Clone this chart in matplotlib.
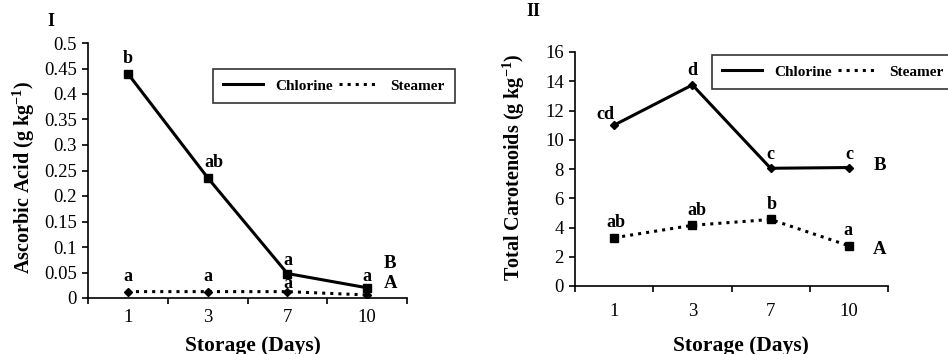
import matplotlib
matplotlib.use('Agg')
import matplotlib.pyplot as plt
from matplotlib.lines import Line2D
from matplotlib.ticker import FuncFormatter, FixedLocator
import numpy as np

plt.rcParams['font.family'] = ['Liberation Serif', 'DejaVu Serif']
plt.rcParams['mathtext.fontset'] = 'custom'
plt.rcParams['mathtext.bf'] = 'Liberation Serif:bold'
plt.rcParams['mathtext.rm'] = 'Liberation Serif'

days = ['1', '3', '7', '10']

# panel I - ascorbic acid (g/kg)
asc_chlorine = [0.44, 0.236, 0.048, 0.020]
asc_steamer = [0.0125, 0.0125, 0.0125, 0.006]
asc_chl_letters = ['b', 'ab', 'a', 'a']
asc_stm_letters = ['a', 'a', 'a', '']

# panel II - total carotenoids (g/kg)
car_chlorine = [11.0, 13.75, 8.05, 8.1]
car_steamer = [3.3, 4.15, 4.55, 2.75]
car_chl_letters = ['cd', 'd', 'c', 'c']
car_stm_letters = ['ab', 'ab', 'b', 'a']

W, H = 948, 354
fig = plt.figure(figsize=(W / 100, H / 100), dpi=100)

def px(x0, y0, x1, y1):
    return [x0 / W, 1 - y1 / H, (x1 - x0) / W, (y1 - y0) / H]

def setup(ax, ymax, step, xpad):
    x = np.arange(len(days))
    ax.set_xlim(-0.5, len(days) - 0.5)
    ax.set_ylim(0, ymax)
    ax.spines['top'].set_visible(False)
    ax.spines['right'].set_visible(False)
    for s in ('left', 'bottom'):
        ax.spines[s].set_linewidth(1.2)
    ax.set_xticks(x)
    ax.set_xticklabels(days, fontsize=13.5)
    ax.xaxis.set_minor_locator(FixedLocator(np.arange(-0.5, len(days), 1.0)))
    ax.tick_params(axis='x', which='major', length=0, pad=xpad)
    ax.tick_params(axis='x', which='minor', length=4, width=1.2, direction='out')
    ax.set_yticks(np.arange(0, ymax + step / 2, step))
    ax.yaxis.set_major_formatter(FuncFormatter(lambda v, p: '%g' % round(v, 3)))
    ax.tick_params(axis='y', length=4, width=1.2, labelsize=13.5, pad=4)
    ax.set_xlabel('Storage (Days)', fontsize=15.5, fontweight='bold')
    return x

def letters(ax, x, vals, labs, offs):
    for xi, v, lab, (dx, dy) in zip(x, vals, labs, offs):
        if lab:
            ax.annotate(lab, (xi, v), xytext=(dx * 0.72, dy * 0.72), textcoords='offset points',
                        ha='center', va='center', fontsize=13, fontweight='bold')

# ---- panel I
ax1 = fig.add_axes(px(88, 43, 407, 298))
x = setup(ax1, 0.5, 0.05, 8)
ax1.plot(x, asc_chlorine, color='black', lw=2.2, marker='s', ms=6)
ax1.plot(x, asc_steamer, color='black', lw=2.2, ls=':', marker='D', ms=4.5)
letters(ax1, x, asc_chlorine, asc_chl_letters, [(0, 15), (6, 15), (0, 13), (0, 11)])
letters(ax1, x, asc_steamer, asc_stm_letters, [(0, 15), (0, 15), (0, 8), (0, 8)])
ax1.set_ylabel('Ascorbic Acid (g kg$^{\\mathbf{-1}}$)', fontsize=14.5, fontweight='bold')
ax1.yaxis.set_label_coords(37 / W, 1 - 178 / H, transform=fig.transFigure)
ax1.xaxis.set_label_coords(253 / W, 1 - 336 / H, transform=fig.transFigure)

# ---- panel II
ax2 = fig.add_axes(px(575, 52, 888, 286))
x = setup(ax2, 16, 2, 12)
ax2.plot(x, car_chlorine, color='black', lw=2.2, marker='D', ms=4.5)
ax2.plot(x, car_steamer, color='black', lw=2.2, ls=':', marker='s', ms=6)
letters(ax2, x, car_chlorine, car_chl_letters, [(-9, 11), (0, 14), (0, 14), (0, 13)])
letters(ax2, x, car_steamer, car_stm_letters, [(2, 15), (5, 15), (1, 15), (-1, 15)])
ax2.set_ylabel('Total Carotenoids (g kg$^{\\mathbf{-1}}$)', fontsize=14.5, fontweight='bold')
ax2.yaxis.set_label_coords(527 / W, 1 - 167 / H, transform=fig.transFigure)
ax2.xaxis.set_label_coords(741 / W, 1 - 336 / H, transform=fig.transFigure)

# legends
handles = [Line2D([], [], color='black', lw=2.2), Line2D([], [], color='black', lw=2.2, ls=':')]
for ax, (lx, ly) in ((ax1, (213, 69)), (ax2, (712, 55))):
    leg = ax.legend(handles, ['Chlorine', 'Steamer'], ncol=2, loc='upper left',
                    bbox_to_anchor=(lx / W, 1 - ly / H), bbox_transform=fig.transFigure,
                    borderaxespad=0, frameon=True, fancybox=False, edgecolor='black',
                    handlelength=2.6, columnspacing=0.4, handletextpad=0.8, borderpad=0.65,
                    prop={'weight': 'bold', 'size': 11})
    leg.get_frame().set_linewidth(1.2)

# panel & group labels
fig.text(51 / W, 1 - 21 / H, 'I', fontsize=13, fontweight='bold', ha='center', va='center')
fig.text(533 / W, 1 - 12 / H, 'II', fontsize=13, fontweight='bold', ha='center', va='center')
fig.text(390 / W, 1 - 263 / H, 'B', fontsize=13.5, fontweight='bold', ha='center', va='center')
fig.text(391 / W, 1 - 283 / H, 'A', fontsize=13.5, fontweight='bold', ha='center', va='center')
fig.text(880 / W, 1 - 166 / H, 'B', fontsize=13.5, fontweight='bold', ha='center', va='center')
fig.text(880 / W, 1 - 249 / H, 'A', fontsize=13.5, fontweight='bold', ha='center', va='center')

fig.savefig('out.png', dpi=100)
